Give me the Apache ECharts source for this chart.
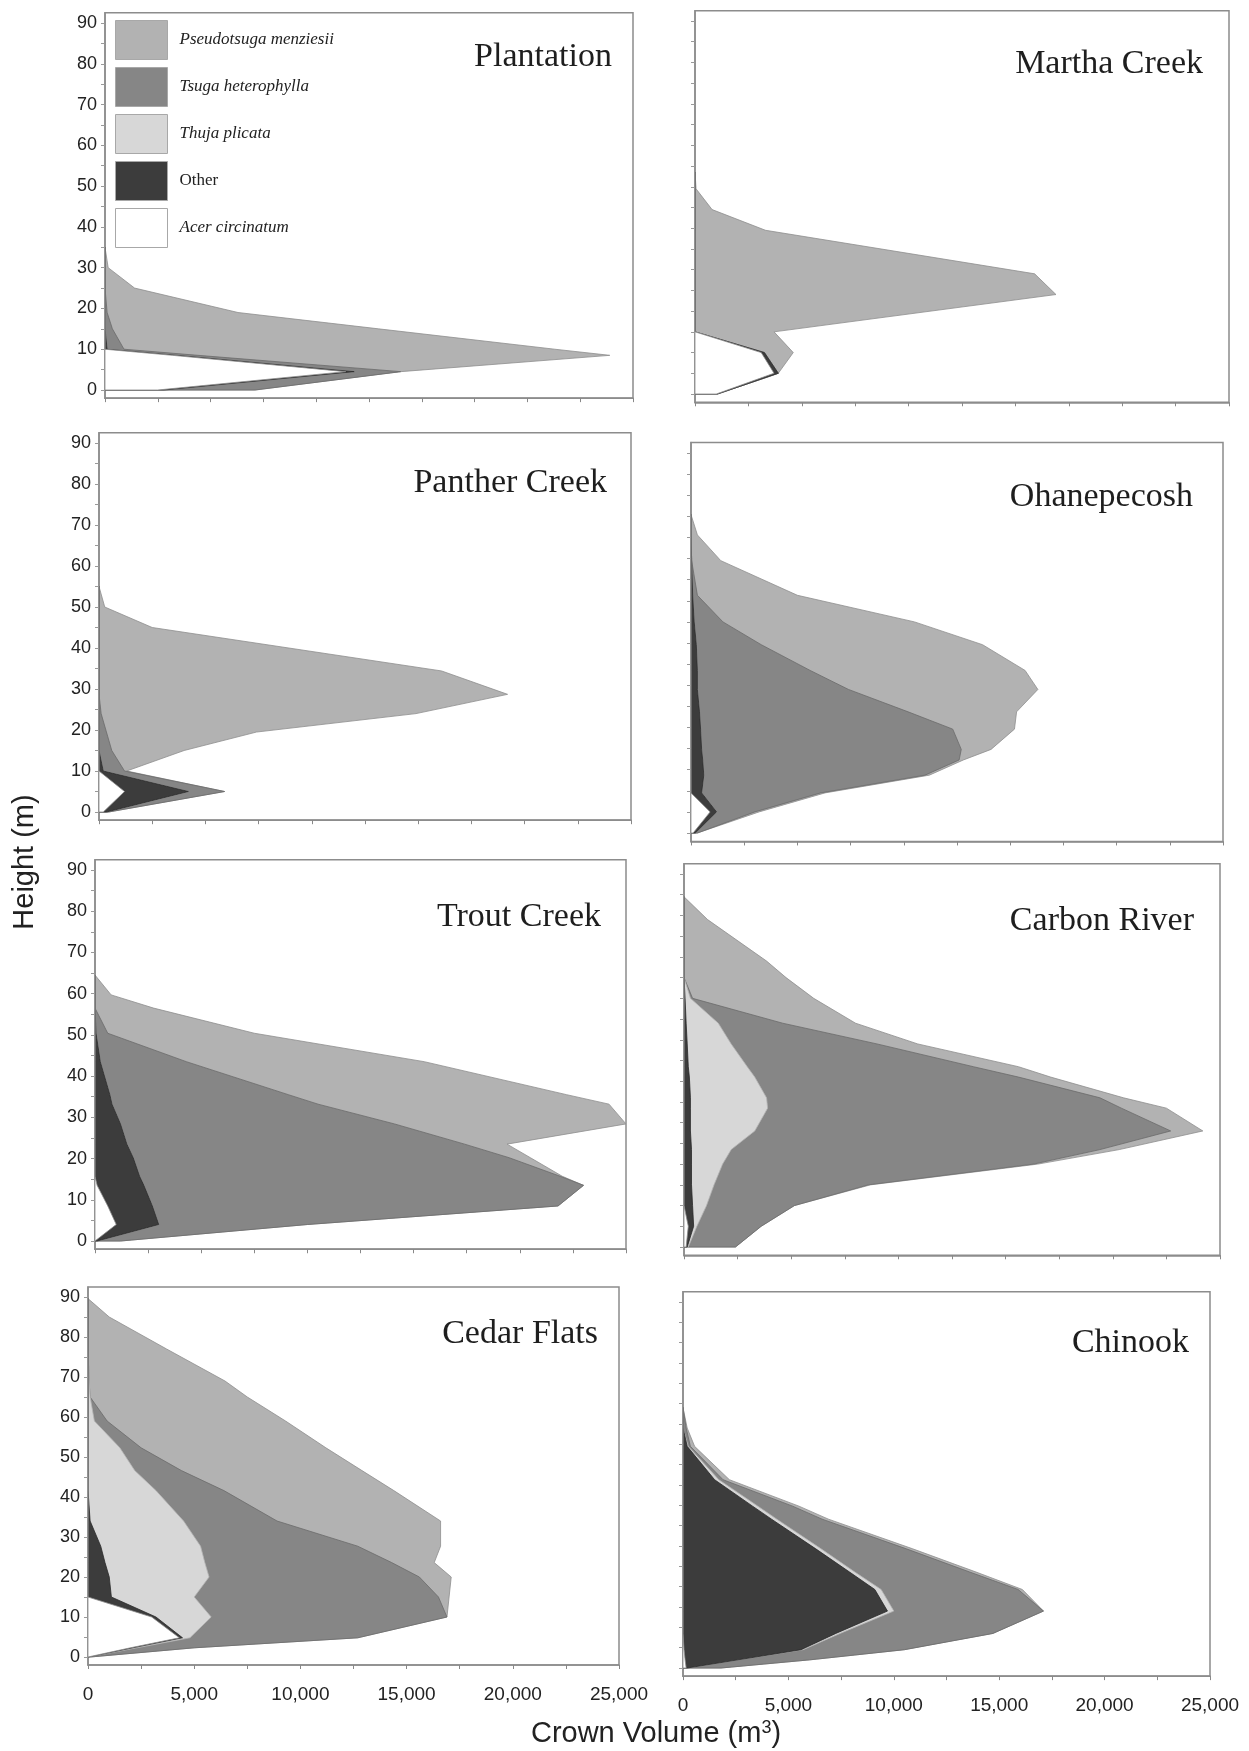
<!DOCTYPE html>
<html><head><meta charset="utf-8">
<script src="https://cdn.jsdelivr.net/npm/echarts@6/dist/echarts.min.js"></script>
<style>html,body{margin:0;padding:0;background:#fff;}#chart{width:1249px;height:1751px;}</style>
</head><body><div id="chart"></div>
<script>
// ---------- tick values / labels ----------
const yTickValues = [0,5,10,15,20,25,30,35,40,45,50,55,60,65,70,75,80,85,90];
const yLabelValues = [0,10,20,30,40,50,60,70,80,90];
const xTickValues = [0,2500,5000,7500,10000,12500,15000,17500,20000,22500,25000];
const xLabelValues = [0,5000,10000,15000,20000,25000];
const xTickLabels = ['0','5,000','10,000','15,000','20,000','25,000'];
const speciesNames = ['Pseudotsuga menziesii','Tsuga heterophylla','Thuja plicata','Other','Acer circinatum'];
const panelNames = ['Plantation','Martha Creek','Panther Creek','Ohanepecosh','Trout Creek','Carbon River','Cedar Flats','Chinook'];

// ---------- Plantation ----------
const plantationHeights = [0, 4.5, 8.5, 10, 15, 19, 25, 30, 35];
const plantationPseudotsuga = [0, 0, 19500, 20400, 12600, 6200, 1400, 150, 0];
const plantationTsuga = [4300, 2200, 1000, 800, 350, 100, 0, 0, 0];
const plantationThuja = [0, 0, 0, 0, 0, 0, 0, 0, 0];
const plantationOther = [300, 400, 200, 100, 0, 0, 0, 0, 0];
const plantationAcer = [2500, 11400, 3200, 0, 0, 0, 0, 0, 0];

// ---------- Martha Creek ----------
const marthaHeights = [0, 5, 10, 15, 24, 29, 39.5, 44.5, 49.5, 53.5];
const marthaPseudotsuga = [0, 0, 1350, 3700, 16900, 15900, 3300, 800, 50, 0];
const marthaTsuga = [0, 0, 0, 0, 0, 0, 0, 0, 0, 0];
const marthaThuja = [0, 0, 0, 0, 0, 0, 0, 0, 0, 0];
const marthaOther = [50, 200, 150, 0, 0, 0, 0, 0, 0, 0];
const marthaAcer = [1000, 3700, 3100, 0, 0, 0, 0, 0, 0, 0];

// ---------- Panther Creek ----------
const pantherHeights = [0, 5, 10, 15, 19.5, 24, 28.7, 34.4, 45, 50, 55];
const pantherPseudotsuga = [0, 0, 100, 3400, 7050, 14800, 19200, 16100, 2500, 270, 0];
const pantherTsuga = [100, 1700, 1000, 600, 350, 100, 0, 0, 0, 0, 0];
const pantherThuja = [0, 0, 0, 0, 0, 0, 0, 0, 0, 0, 0];
const pantherOther = [150, 3000, 200, 0, 0, 0, 0, 0, 0, 0, 0];
const pantherAcer = [200, 1200, 0, 0, 0, 0, 0, 0, 0, 0, 0];

// ---------- Ohanepecosh ----------
const ohanHeights = [0, 5, 9.5, 13.7, 17.3, 19.8, 24.6, 28.7, 34, 38.5, 44.6, 50, 56.3, 64.5, 70.6, 75.4];
const ohanPseudotsuga = [0, 200, 200, 200, 200, 1400, 2900, 5100, 8900, 10100, 10400, 9000, 4700, 1370, 300, 0];
const ohanTsuga = [100, 1800, 5600, 10400, 12050, 12200, 11850, 9800, 7100, 5300, 3050, 1350, 220, 0, 0, 0];
const ohanThuja = [0, 0, 0, 0, 0, 0, 0, 0, 0, 0, 0, 0, 0, 0, 0, 0];
const ohanOther = [100, 300, 500, 600, 550, 500, 450, 400, 300, 300, 250, 150, 80, 30, 0, 0];
const ohanAcer = [100, 900, 0, 0, 0, 0, 0, 0, 0, 0, 0, 0, 0, 0, 0, 0];

// ---------- Trout Creek ----------
const troutHeights = [0, 4, 8.5, 13.5, 15.7, 20.2, 23.5, 28.4, 33.2, 35.5, 43.5, 50.4, 56.5, 59.7, 64.5];
const troutPseudotsuga = [0, 0, 0, 0, 100, 1000, 2000, 10900, 13700, 13100, 11200, 6900, 2760, 760, 0];
const troutTsuga = [1100, 7000, 19100, 20700, 19800, 17700, 15900, 12900, 9700, 8400, 4050, 550, 0, 0, 0];
const troutThuja = [0, 0, 0, 0, 0, 0, 0, 0, 0, 0, 0, 0, 0, 0, 0];
const troutOther = [100, 2000, 2100, 2200, 2100, 1800, 1500, 1200, 800, 700, 250, 50, 0, 0, 0];
const troutAcer = [0, 1000, 600, 100, 0, 0, 0, 0, 0, 0, 0, 0, 0, 0, 0];

// ---------- Carbon River ----------
const carbonHeights = [0, 5, 10, 15, 20, 23.5, 28, 33.5, 36, 41, 43.5, 49, 54, 60, 65, 69, 79, 84.5];
const carbonPseudotsuga = [0, 0, 0, 100, 200, 900, 1500, 2100, 1100, 1500, 2100, 1900, 3400, 5650, 4760, 3850, 1100, 0];
const carbonTsuga = [2200, 3000, 4100, 7200, 14500, 17200, 19400, 16500, 15550, 12300, 10550, 6800, 3000, 100, 0, 0, 0, 0];
const carbonThuja = [50, 150, 650, 1050, 1450, 1850, 3000, 3600, 3550, 3050, 2750, 2050, 1500, 250, 0, 0, 0, 0];
const carbonOther = [50, 250, 400, 350, 350, 350, 300, 300, 300, 250, 200, 150, 100, 50, 0, 0, 0, 0];
const carbonAcer = [100, 200, 0, 0, 0, 0, 0, 0, 0, 0, 0, 0, 0, 0, 0, 0, 0, 0];

// ---------- Cedar Flats ----------
const cedarHeights = [0, 2.3, 4.8, 10, 15, 20, 23.6, 27.7, 34, 41.6, 46.6, 52.3, 59, 65, 69, 77, 85, 89.6];
const cedarPseudotsuga = [0, 0, 0, 0, 500, 1500, 2000, 3900, 7700, 8000, 8500, 8700, 8400, 7400, 6400, 3700, 1000, 0];
const cedarTsuga = [100, 2700, 7900, 11100, 11500, 9900, 8800, 7400, 4400, 3200, 2200, 1000, 600, 0, 0, 0, 0, 0];
const cedarThuja = [0, 200, 350, 2600, 3900, 4700, 4700, 4700, 4400, 3200, 2200, 1500, 300, 100, 50, 0, 0, 0];
const cedarOther = [0, 100, 150, 200, 1100, 1000, 800, 600, 100, 0, 0, 0, 0, 0, 0, 0, 0, 0];
const cedarAcer = [0, 2000, 4300, 3000, 0, 0, 0, 0, 0, 0, 0, 0, 0, 0, 0, 0, 0, 0];

// ---------- Chinook ----------
const chinookHeights = [0, 2, 4.5, 8.5, 14, 19.3, 23.6, 29.3, 36.6, 39.8, 46.3, 54.5, 59, 64];
const chinookPseudotsuga = [0, 0, 0, 0, 0, 200, 300, 300, 300, 300, 300, 200, 50, 0];
const chinookTsuga = [1600, 3400, 4800, 7250, 7100, 6500, 5450, 4050, 2150, 1650, 200, 100, 150, 0];
const chinookThuja = [0, 0, 100, 200, 300, 300, 250, 250, 250, 250, 200, 50, 0, 0];
const chinookOther = [50, 2500, 5550, 7250, 9700, 9100, 7900, 6300, 4200, 3300, 1500, 200, 0, 0];
const chinookAcer = [150, 100, 50, 0, 0, 0, 0, 0, 0, 0, 0, 0, 0, 0];

// ---------- assemble ----------
const panelData = [
  [plantationHeights, [plantationPseudotsuga, plantationTsuga, plantationThuja, plantationOther, plantationAcer]],
  [marthaHeights, [marthaPseudotsuga, marthaTsuga, marthaThuja, marthaOther, marthaAcer]],
  [pantherHeights, [pantherPseudotsuga, pantherTsuga, pantherThuja, pantherOther, pantherAcer]],
  [ohanHeights, [ohanPseudotsuga, ohanTsuga, ohanThuja, ohanOther, ohanAcer]],
  [troutHeights, [troutPseudotsuga, troutTsuga, troutThuja, troutOther, troutAcer]],
  [carbonHeights, [carbonPseudotsuga, carbonTsuga, carbonThuja, carbonOther, carbonAcer]],
  [cedarHeights, [cedarPseudotsuga, cedarTsuga, cedarThuja, cedarOther, cedarAcer]],
  [chinookHeights, [chinookPseudotsuga, chinookTsuga, chinookThuja, chinookOther, chinookAcer]]
];

// layout: [x at 0, x at 25000, y at 0 m, y at 90 m], title [right edge x, centre y]
const frames = [
  [105, 633, 390, 23], [695, 1229, 394, 21],
  [99, 631, 812, 443], [691, 1223, 833, 453],
  [95, 626, 1241, 870], [684, 1220, 1247, 874],
  [88, 619, 1657, 1297], [683, 1210, 1668, 1302]
];
const titlePos = [[612, 52], [1203, 59], [607, 478], [1193, 492], [601, 912], [1194, 916], [598, 1329], [1189, 1338]];

const fills = ['#b2b2b2', '#868686', '#d7d7d7', '#3c3c3c', '#ffffff'];
const strokes = ['#8e8e8e', '#6b6b6b', '#b5b5b5', '#2a2a2a', '#8a8a8a'];
const Y_MIN = -2, Y_MAX = 92.5;

const grids = [], xAxes = [], yAxes = [], series = [], titles = [];
panelData.forEach((pd, p) => {
  const heights = pd[0];
  const vals = pd[1]; // Pseudo, Tsuga, Thuja, Other, Acer
  const f = frames[p];
  const s = (f[2] - f[3]) / 90;
  const top = f[3] - (Y_MAX - 90) * s;
  const bottom = f[2] - Y_MIN * s;
  grids.push({left: f[0], width: f[1] - f[0], top: top, height: bottom - top,
    show: true, borderColor: '#8c8c8c', borderWidth: 1.5, containLabel: false});
  const bottomRow = p >= 6, leftCol = p % 2 === 0;
  xAxes.push({gridIndex: p, type: 'value', min: 0, max: 25000,
    axisLine: {show: true, onZero: false, lineStyle: {color: '#8c8c8c', width: 1.5}},
    axisTick: {show: true, customValues: xTickValues, length: 4, lineStyle: {color: '#888'}},
    axisLabel: {show: bottomRow, customValues: xLabelValues, margin: 20,
      formatter: v => xTickLabels[xLabelValues.indexOf(v)],
      fontFamily: 'Liberation Sans, Arial, sans-serif', fontSize: 19, color: '#222'},
    splitLine: {show: false}});
  yAxes.push({gridIndex: p, type: 'value', min: Y_MIN, max: Y_MAX,
    axisLine: {show: true, onZero: false, lineStyle: {color: '#8c8c8c', width: 1.5}},
    axisTick: {show: true, customValues: yTickValues, length: 4, lineStyle: {color: '#999'}},
    axisLabel: {show: leftCol, customValues: yLabelValues, margin: 8,
      fontFamily: 'Liberation Sans, Arial, sans-serif', fontSize: 18, color: '#222'},
    splitLine: {show: false}});
  // cumulative edges, stacked from the axis: Acer, Other, Thuja, Tsuga, Pseudo
  const order = [4, 3, 2, 1, 0];
  const cum = {};
  let running = heights.map(() => 0);
  order.forEach(k => {
    running = running.map((r, i) => r + vals[k][i]);
    cum[k] = running.slice();
  });
  // draw outermost first
  [0, 1, 2, 3, 4].forEach(k => {
    const data = heights.map((h, i) => [cum[k][i], h]);
    series.push({
      type: 'custom', name: speciesNames[k], xAxisIndex: p, yAxisIndex: p,
      clip: true, silent: true, z: 2,
      itemStyle: {color: fills[k]},
      encode: {x: 0, y: 1},
      data: data,
      renderItem: function (params, api) {
        if (params.dataIndex !== 0) return;
        const pts = data.map(d => api.coord(d));
        pts.push(api.coord([0, data[data.length - 1][1]]));
        pts.push(api.coord([0, data[0][1]]));
        return {type: 'polygon', shape: {points: pts},
          style: {fill: fills[k], stroke: strokes[k], lineWidth: 0.8}};
      }
    });
  });
  titles.push({text: panelNames[p], right: 1249 - titlePos[p][0], top: titlePos[p][1] - 12, padding: 0,
    textStyle: {fontFamily: 'Liberation Serif, Times New Roman, serif', fontSize: 34, fontWeight: 'normal', color: '#1e1e1e'}});
});

const chart = echarts.init(document.getElementById('chart'), null, {renderer: 'canvas'});
chart.setOption({
  animation: false,
  backgroundColor: '#ffffff',
  title: titles,
  grid: grids, xAxis: xAxes, yAxis: yAxes, series: series,
  legend: {
    left: 115, top: 20, orient: 'vertical', itemWidth: 52, itemHeight: 39, itemGap: 7,
    icon: 'rect', selectedMode: false, padding: 0,
    itemStyle: {borderColor: '#a8a8a8', borderWidth: 1},
    textStyle: {fontFamily: 'Liberation Serif, Times New Roman, serif', fontStyle: 'italic', fontSize: 17, color: '#222', padding: [0, 0, 0, 7]},
    data: speciesNames.map(n => n === 'Other'
      ? {name: n, textStyle: {fontStyle: 'normal'}}
      : {name: n})
  },
  graphic: [
    {type: 'text', x: 25, y: 862, rotation: Math.PI / 2,
      style: {text: 'Height (m)', font: '29px "Liberation Sans", Arial, sans-serif', fill: '#222', textAlign: 'center', textVerticalAlign: 'middle'}},
    {type: 'text', x: 656, y: 1734,
      style: {text: 'Crown Volume (m{sup|3})', font: '29px "Liberation Sans", Arial, sans-serif', fill: '#222', textAlign: 'center', textVerticalAlign: 'middle',
        rich: {sup: {font: '18px "Liberation Sans", Arial, sans-serif', fill: '#222', verticalAlign: 'top', padding: [0, 0, 12, 0]}}}}
  ]
});
</script></body></html>
